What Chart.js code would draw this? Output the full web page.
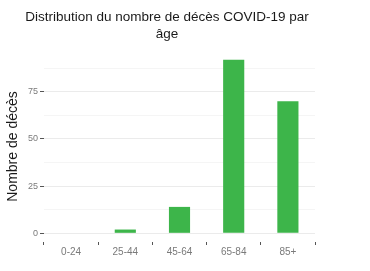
<!DOCTYPE html>
<html>
<head>
<meta charset="utf-8">
<script src="https://cdn.jsdelivr.net/npm/chart.js@4"></script>
<style>
  html, body { margin: 0; padding: 0; background: #fff; }
  #wrap { width: 370px; height: 271px; }
</style>
</head>
<body>
<div id="wrap"><canvas id="myChart" width="370" height="271"></canvas></div>
<script>
'use strict';

let ageGroups = ['0-24', '25-44', '45-64', '65-84', '85+'];
let deaths = [0, 2, 14, 92, 70];
let yTickValues = [0, 12.5, 25, 37.5, 50, 62.5, 75, 87.5];
let yLabelValues = [0, 25, 50, 75];

let chartTitle = ['Distribution du nombre de décès COVID-19 par', 'âge'];
let yTitle = 'Nombre de décès';

let fontName = '"Liberation Sans", Arial, sans-serif';

// title drawn by hand so it can sit a bit left of the canvas centre
let titlePlugin = {
    id: 'ggTitle',
    afterDraw(chart) {
        let ctx = chart.ctx;
        ctx.save();
        ctx.fillStyle = '#1a1a1a';
        ctx.font = '13.5px ' + fontName;
        ctx.textAlign = 'center';
        ctx.textBaseline = 'alphabetic';
        ctx.fillText(chartTitle[0], 167, 21);
        ctx.fillText(chartTitle[1], 167, 38);
        ctx.restore();
    }
};

let ctx = document.getElementById('myChart').getContext('2d');
let chart = new Chart(ctx, {
    type: 'bar',
    data: {
        labels: ageGroups,
        datasets: [{
            label: 'décès',
            data: deaths,
            backgroundColor: '#3db54a',
            borderWidth: 0,
            categoryPercentage: 1,
            barPercentage: 0.39
        }]
    },
    options: {
        responsive: false,
        animation: false,
        layout: { padding: { top: 51, right: 55, left: 0, bottom: 0 } },
        plugins: {
            legend: { display: false },
            tooltip: { enabled: false }
        },
        scales: {
            x: {
                grid: {
                    display: true,
                    drawOnChartArea: false,
                    tickLength: 3,
                    tickColor: '#555',
                    tickWidth: 1
                },
                border: { display: false },
                ticks: {
                    color: '#7a7a7a',
                    font: { family: fontName, size: 10 },
                    padding: 1
                },
                afterFit(scale) { scale.height = 29; }
            },
            y: {
                min: -4.6,
                max: 96.6,
                afterBuildTicks(scale) {
                    scale.ticks = yTickValues.map(v => ({ value: v }));
                },
                grid: {
                    color: c => (yLabelValues.indexOf(c.tick.value) >= 0 ? '#ebebeb' : '#f5f5f5'),
                    tickColor: c => (yLabelValues.indexOf(c.tick.value) >= 0 ? '#555' : 'rgba(0,0,0,0)'),
                    tickLength: 4,
                    lineWidth: 1
                },
                border: { display: false },
                ticks: {
                    color: '#7a7a7a',
                    font: { family: fontName, size: 9 },
                    padding: 2,
                    autoSkip: false,
                    callback: v => (yLabelValues.indexOf(v) >= 0 ? String(v) : '')
                },
                title: {
                    display: true,
                    text: yTitle,
                    color: '#1a1a1a',
                    font: { family: fontName, size: 14 },
                    padding: { top: 5, bottom: 0 }
                },
                afterFit(scale) { scale.width = 44; }
            }
        }
    },
    plugins: [titlePlugin]
});
</script>
</body>
</html>
